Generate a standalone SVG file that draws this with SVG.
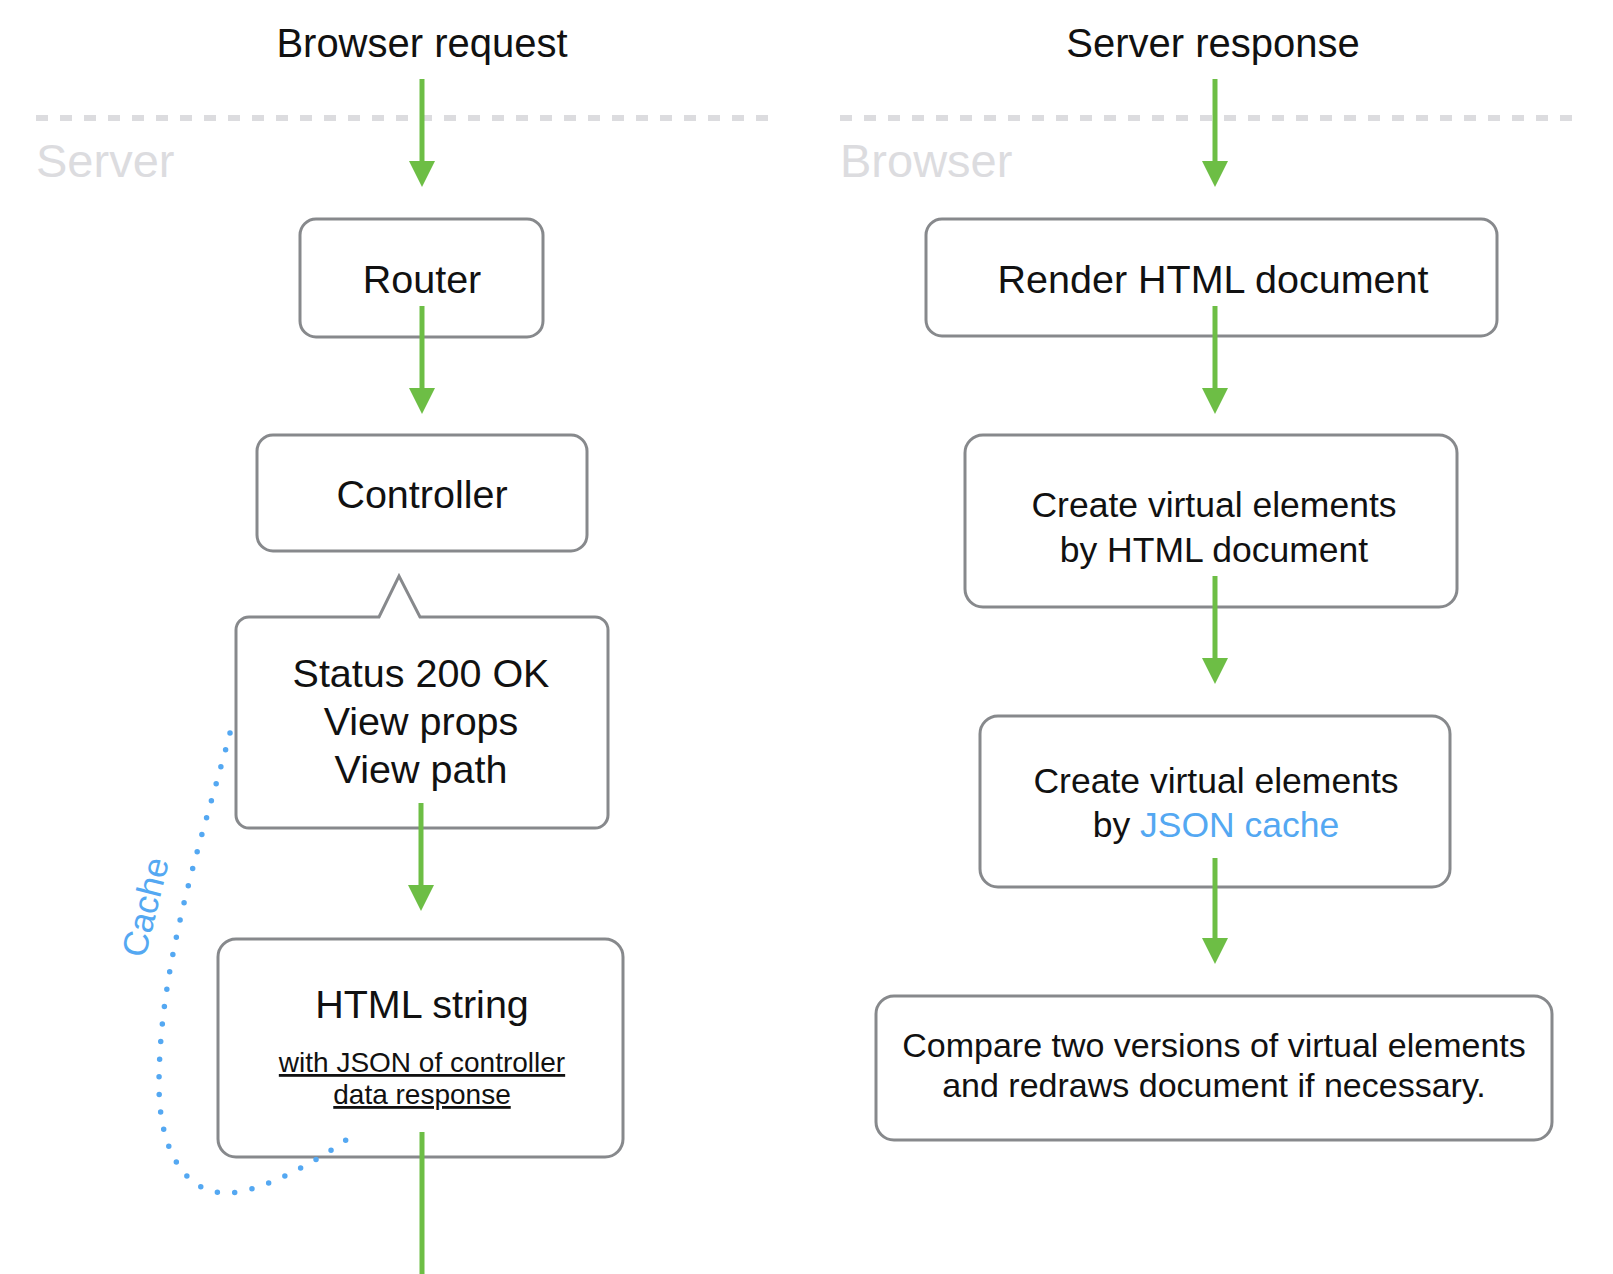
<svg xmlns="http://www.w3.org/2000/svg" width="1613" height="1274" viewBox="0 0 1613 1274">
<style>
text{font-family:"Liberation Sans",Arial,sans-serif;fill:#111;text-anchor:middle}
.box{fill:#fff;stroke:#87898c;stroke-width:3}
.big{font-size:39.5px}
.mid{font-size:35.5px}
.hdr{font-size:40px}
.lane{font-size:47px;fill:#dcdcdf;text-anchor:start}
.sep{stroke:#dcdcdf;stroke-width:6;stroke-dasharray:12 12}
.flow{stroke:#6dbe45;stroke-width:5;fill:none}
.arr{marker-end:url(#head)}
.blue{fill:#54a8f2}
</style>
<defs>
<marker id="head" viewBox="0 0 26 26" markerWidth="26" markerHeight="26" markerUnits="userSpaceOnUse" refX="2" refY="13" orient="auto">
<path d="M0,0 L26,13 L0,26 Z" fill="#6dbe45"/>
</marker>
</defs>
<g id="lanes">
<line class="sep" x1="36" y1="118" x2="770" y2="118"/>
<line class="sep" x1="840" y1="118" x2="1574" y2="118"/>
<text class="lane" x="36" y="177">Server</text>
<text class="lane" x="840" y="177">Browser</text>
<text class="hdr" x="422" y="57">Browser request</text>
<text class="hdr" x="1213" y="57">Server response</text>
</g>
<g id="router">
<rect class="box" x="300" y="219" width="243" height="118" rx="16"/>
<text class="big" x="422" y="293">Router</text>
</g>
<g id="controller">
<rect class="box" x="257" y="435" width="330" height="116" rx="16"/>
<text class="big" x="422" y="508">Controller</text>
</g>
<g id="status">
<path class="box" d="M249,617 L379,617 L399,576 L420,617 L595,617 A13,13 0 0 1 608,630 L608,815 A13,13 0 0 1 595,828 L249,828 A13,13 0 0 1 236,815 L236,630 A13,13 0 0 1 249,617 Z"/>
<text class="big" x="421" y="687">Status 200 OK</text>
<text class="big" x="421" y="735">View props</text>
<text class="big" x="421" y="783">View path</text>
</g>
<g id="html-string">
<rect class="box" x="218" y="939" width="405" height="218" rx="18"/>
<text class="big" x="422" y="1018">HTML string</text>
<text x="422" y="1072" style="font-size:28px;text-decoration:underline">with JSON of controller</text>
<text x="422" y="1104" style="font-size:28px;text-decoration:underline">data response</text>
</g>
<g id="render">
<rect class="box" x="926" y="219" width="571" height="117" rx="16"/>
<text class="big" x="1213" y="293">Render HTML document</text>
</g>
<g id="create-html">
<rect class="box" x="965" y="435" width="492" height="172" rx="18"/>
<text class="mid" x="1214" y="517">Create virtual elements</text>
<text class="mid" x="1214" y="562">by HTML document</text>
</g>
<g id="create-json">
<rect class="box" x="980" y="716" width="470" height="171" rx="18"/>
<text class="mid" x="1216" y="793">Create virtual elements</text>
<text class="mid" x="1216" y="837">by <tspan class="blue">JSON cache</tspan></text>
</g>
<g id="compare">
<rect class="box" x="876" y="996" width="676" height="144" rx="18"/>
<text style="font-size:34px" x="1214" y="1057">Compare two versions of virtual elements</text>
<text style="font-size:34px" x="1214" y="1097">and redraws document if necessary.</text>
</g>
<g id="connectors">
<line class="flow arr" x1="422" y1="79" x2="422" y2="163"/>
<line class="flow arr" x1="422" y1="306" x2="422" y2="390"/>
<line class="flow arr" x1="421" y1="803" x2="421" y2="887"/>
<line class="flow" x1="422" y1="1132" x2="422" y2="1274"/>
<line class="flow arr" x1="1215" y1="79" x2="1215" y2="163"/>
<line class="flow arr" x1="1215" y1="306" x2="1215" y2="390"/>
<line class="flow arr" x1="1215" y1="576" x2="1215" y2="660"/>
<line class="flow arr" x1="1215" y1="858" x2="1215" y2="940"/>
<path d="M230,733 C205,830 159,960 159,1085 C159,1150 185,1193 226,1193 C262,1193 320,1160 357,1132" fill="none" stroke="#54a8f2" stroke-width="5.5" stroke-linecap="round" stroke-dasharray="0 17.6"/>
<text class="blue" x="157" y="910" style="font-size:35px" transform="rotate(-76 157 910)">Cache</text>
</g>
</svg>
